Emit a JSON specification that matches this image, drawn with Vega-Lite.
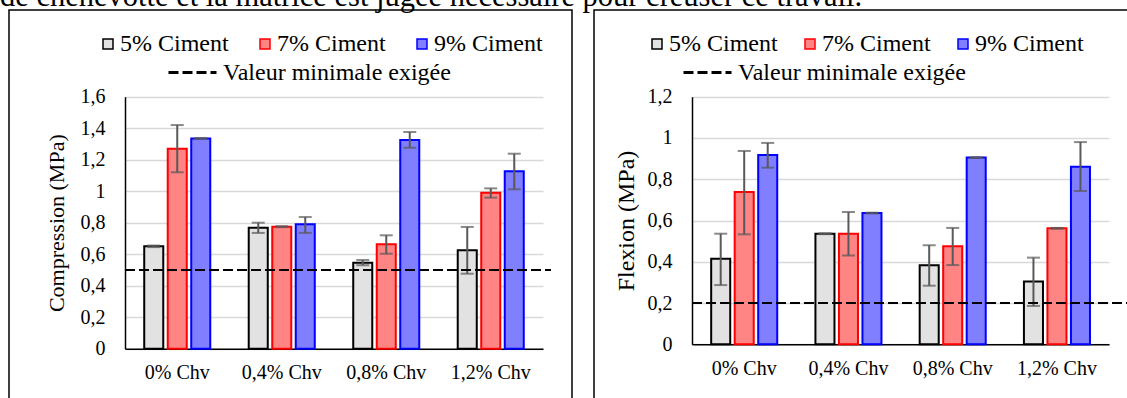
{
  "$schema": "https://vega.github.io/schema/vega-lite/v6.json",
  "autosize": {"type": "pad"},
  "padding": {"left": 0, "top": -19, "right": 0, "bottom": 0},
  "title": {"text": "de chènevotte et la matrice est jugée nécessaire pour creuser ce travail.", "anchor": "start", "frame": "group", "fontSize": 30.5, "font": "Liberation Serif", "fontWeight": "normal", "color": "#000000", "baseline": "alphabetic", "offset": -27, "dx": -9},
  "datasets": {
    "comp": [
      {"chv": "0% Chv", "ciment": "5% Ciment", "v": 0.65, "lo": 0.645, "hi": 0.655},
      {"chv": "0% Chv", "ciment": "7% Ciment", "v": 1.27, "lo": 1.12, "hi": 1.42},
      {"chv": "0% Chv", "ciment": "9% Ciment", "v": 1.335, "lo": 1.332, "hi": 1.338},
      {"chv": "0,4% Chv", "ciment": "5% Ciment", "v": 0.768, "lo": 0.735, "hi": 0.8},
      {"chv": "0,4% Chv", "ciment": "7% Ciment", "v": 0.775, "lo": 0.772, "hi": 0.778},
      {"chv": "0,4% Chv", "ciment": "9% Ciment", "v": 0.79, "lo": 0.735, "hi": 0.836},
      {"chv": "0,8% Chv", "ciment": "5% Ciment", "v": 0.546, "lo": 0.53, "hi": 0.563},
      {"chv": "0,8% Chv", "ciment": "7% Ciment", "v": 0.663, "lo": 0.603, "hi": 0.72},
      {"chv": "0,8% Chv", "ciment": "9% Ciment", "v": 1.325, "lo": 1.276, "hi": 1.376},
      {"chv": "1,2% Chv", "ciment": "5% Ciment", "v": 0.625, "lo": 0.476, "hi": 0.773},
      {"chv": "1,2% Chv", "ciment": "7% Ciment", "v": 0.99, "lo": 0.959, "hi": 1.018},
      {"chv": "1,2% Chv", "ciment": "9% Ciment", "v": 1.126, "lo": 1.012, "hi": 1.238}
    ],
    "flex": [
      {"chv": "0% Chv", "ciment": "5% Ciment", "v": 0.415, "lo": 0.287, "hi": 0.536},
      {"chv": "0% Chv", "ciment": "7% Ciment", "v": 0.738, "lo": 0.533, "hi": 0.937},
      {"chv": "0% Chv", "ciment": "9% Ciment", "v": 0.918, "lo": 0.856, "hi": 0.976},
      {"chv": "0,4% Chv", "ciment": "5% Ciment", "v": 0.536, "lo": 0.534, "hi": 0.538},
      {"chv": "0,4% Chv", "ciment": "7% Ciment", "v": 0.536, "lo": 0.43, "hi": 0.641},
      {"chv": "0,4% Chv", "ciment": "9% Ciment", "v": 0.636, "lo": 0.634, "hi": 0.638},
      {"chv": "0,8% Chv", "ciment": "5% Ciment", "v": 0.383, "lo": 0.284, "hi": 0.48},
      {"chv": "0,8% Chv", "ciment": "7% Ciment", "v": 0.475, "lo": 0.384, "hi": 0.564},
      {"chv": "0,8% Chv", "ciment": "9% Ciment", "v": 0.905, "lo": 0.903, "hi": 0.907},
      {"chv": "1,2% Chv", "ciment": "5% Ciment", "v": 0.304, "lo": 0.186, "hi": 0.42},
      {"chv": "1,2% Chv", "ciment": "7% Ciment", "v": 0.562, "lo": 0.56, "hi": 0.564},
      {"chv": "1,2% Chv", "ciment": "9% Ciment", "v": 0.861, "lo": 0.743, "hi": 0.98}
    ],
    "minc": [{"lbl": "Valeur minimale exigée", "v": 0.5}],
    "minf": [{"lbl": "Valeur minimale exigée", "v": 0.2}]
  },
  "spacing": 20,
  "hconcat": [
    {
      "width": 563,
      "height": 400,
      "layer": [
        {
          "data": {"name": "comp"},
          "layer": [
            {
              "mark": {"type": "bar", "strokeWidth": 2},
              "encoding": {
                "x": {"field": "chv", "type": "nominal", "sort": ["0% Chv", "0,4% Chv", "0,8% Chv", "1,2% Chv"], "scale": {"range": [116, 534], "paddingInner": 0.368, "paddingOuter": 0.184}, "axis": {"title": null, "offset": -61.3, "labelAngle": 0, "labelPadding": 14, "grid": false}},
                "xOffset": {"field": "ciment", "type": "nominal", "sort": ["5% Ciment", "7% Ciment", "9% Ciment"], "scale": {"paddingInner": 0.19, "paddingOuter": 0}},
                "y": {"field": "v", "type": "quantitative", "title": "Compression (MPa)", "scale": {"domain": [0, 1.6], "range": [338.7, 86.7], "nice": false}, "axis": {"offset": -116, "values": [0, 0.2, 0.4, 0.6, 0.8, 1, 1.2, 1.4, 1.6], "labelExpr": "replace(format(datum.value, '.1~f'), '.', ',')", "grid": true, "titlePadding": 12, "titleFontSize": 22}},
                "fill": {"field": "ciment", "type": "nominal", "title": null, "scale": {"domain": ["5% Ciment", "7% Ciment", "9% Ciment"], "range": ["#e2e2e2", "#ff8484", "#7f7fff"]}, "legend": {"orient": "none", "legendX": 87, "legendY": 22, "direction": "horizontal", "title": null, "symbolType": "square", "symbolSize": 100, "symbolStrokeWidth": 1.5, "labelOffset": 0, "columnPadding": 24}},
                "stroke": {"field": "ciment", "type": "nominal", "title": null, "scale": {"domain": ["5% Ciment", "7% Ciment", "9% Ciment"], "range": ["#000000", "#ff0000", "#0000ff"]}, "legend": {"orient": "none", "legendX": 87, "legendY": 22, "direction": "horizontal", "title": null, "symbolType": "square", "symbolSize": 100, "symbolStrokeWidth": 1.5, "labelOffset": 0, "columnPadding": 24}}
              }
            },
            {
              "mark": {"type": "rule", "color": "#595959", "strokeWidth": 2},
              "encoding": {
                "x": {"field": "chv", "type": "nominal", "sort": ["0% Chv", "0,4% Chv", "0,8% Chv", "1,2% Chv"]},
                "xOffset": {"field": "ciment", "type": "nominal", "sort": ["5% Ciment", "7% Ciment", "9% Ciment"]},
                "y": {"field": "lo", "type": "quantitative", "title": "Compression (MPa)"},
                "y2": {"field": "hi"}
              }
            },
            {
              "mark": {"type": "tick", "orient": "horizontal", "color": "#595959", "size": 13, "thickness": 2},
              "encoding": {
                "x": {"field": "chv", "type": "nominal", "sort": ["0% Chv", "0,4% Chv", "0,8% Chv", "1,2% Chv"]},
                "xOffset": {"field": "ciment", "type": "nominal", "sort": ["5% Ciment", "7% Ciment", "9% Ciment"]},
                "y": {"field": "lo", "type": "quantitative", "title": "Compression (MPa)"}
              }
            },
            {
              "mark": {"type": "tick", "orient": "horizontal", "color": "#595959", "size": 13, "thickness": 2},
              "encoding": {
                "x": {"field": "chv", "type": "nominal", "sort": ["0% Chv", "0,4% Chv", "0,8% Chv", "1,2% Chv"]},
                "xOffset": {"field": "ciment", "type": "nominal", "sort": ["5% Ciment", "7% Ciment", "9% Ciment"]},
                "y": {"field": "hi", "type": "quantitative", "title": "Compression (MPa)"}
              }
            }
          ]
        },
        {
          "data": {"name": "minc"},
          "mark": {"type": "rule", "strokeWidth": 2, "color": "#000000"},
          "encoding": {
            "x": {"datum": 0, "type": "quantitative", "scale": {"domain": [0, 1], "range": [116, 542]}, "axis": null},
            "x2": {"datum": 1},
            "y": {"field": "v", "type": "quantitative", "title": "Compression (MPa)"},
            "strokeDash": {"field": "lbl", "type": "nominal", "title": null, "scale": {"range": [[10, 4]]}, "legend": {"orient": "none", "legendX": 158, "legendY": 37, "title": null, "symbolType": "stroke", "symbolSize": 2304, "symbolStrokeWidth": 3, "symbolStrokeColor": "#000000", "labelOffset": 5, "encode": {"symbols": {"update": {"strokeDash": {"value": [11, 7]}, "stroke": {"value": "#000000"}}}}}}
          }
        }
      ],
      "resolve": {"scale": {"x": "independent"}}
    },
    {
      "width": 560,
      "height": 400,
      "layer": [
        {
          "data": {"name": "flex"},
          "layer": [
            {
              "mark": {"type": "bar", "strokeWidth": 2},
              "encoding": {
                "x": {"field": "chv", "type": "nominal", "sort": ["0% Chv", "0,4% Chv", "0,8% Chv", "1,2% Chv"], "scale": {"range": [98, 515], "paddingInner": 0.368, "paddingOuter": 0.184}, "axis": {"title": null, "offset": -65.7, "labelAngle": 0, "labelPadding": 14, "grid": false}},
                "xOffset": {"field": "ciment", "type": "nominal", "sort": ["5% Ciment", "7% Ciment", "9% Ciment"], "scale": {"paddingInner": 0.19, "paddingOuter": 0}},
                "y": {"field": "v", "type": "quantitative", "title": "Flexion (MPa)", "scale": {"domain": [0, 1.2], "range": [334.3, 86.7], "nice": false}, "axis": {"offset": -98, "values": [0, 0.2, 0.4, 0.6, 0.8, 1, 1.2], "labelExpr": "replace(format(datum.value, '.1~f'), '.', ',')", "grid": true, "titlePadding": 9, "titleFontSize": 24}},
                "fill": {"field": "ciment", "type": "nominal", "title": null, "scale": {"domain": ["5% Ciment", "7% Ciment", "9% Ciment"], "range": ["#e2e2e2", "#ff8484", "#7f7fff"]}, "legend": {"orient": "none", "legendX": 51, "legendY": 22, "direction": "horizontal", "title": null, "symbolType": "square", "symbolSize": 100, "symbolStrokeWidth": 1.5, "labelOffset": 0, "columnPadding": 20}},
                "stroke": {"field": "ciment", "type": "nominal", "title": null, "scale": {"domain": ["5% Ciment", "7% Ciment", "9% Ciment"], "range": ["#000000", "#ff0000", "#0000ff"]}, "legend": {"orient": "none", "legendX": 51, "legendY": 22, "direction": "horizontal", "title": null, "symbolType": "square", "symbolSize": 100, "symbolStrokeWidth": 1.5, "labelOffset": 0, "columnPadding": 20}}
              }
            },
            {
              "mark": {"type": "rule", "color": "#595959", "strokeWidth": 2},
              "encoding": {
                "x": {"field": "chv", "type": "nominal", "sort": ["0% Chv", "0,4% Chv", "0,8% Chv", "1,2% Chv"]},
                "xOffset": {"field": "ciment", "type": "nominal", "sort": ["5% Ciment", "7% Ciment", "9% Ciment"]},
                "y": {"field": "lo", "type": "quantitative", "title": "Flexion (MPa)"},
                "y2": {"field": "hi"}
              }
            },
            {
              "mark": {"type": "tick", "orient": "horizontal", "color": "#595959", "size": 13, "thickness": 2},
              "encoding": {
                "x": {"field": "chv", "type": "nominal", "sort": ["0% Chv", "0,4% Chv", "0,8% Chv", "1,2% Chv"]},
                "xOffset": {"field": "ciment", "type": "nominal", "sort": ["5% Ciment", "7% Ciment", "9% Ciment"]},
                "y": {"field": "lo", "type": "quantitative", "title": "Flexion (MPa)"}
              }
            },
            {
              "mark": {"type": "tick", "orient": "horizontal", "color": "#595959", "size": 13, "thickness": 2},
              "encoding": {
                "x": {"field": "chv", "type": "nominal", "sort": ["0% Chv", "0,4% Chv", "0,8% Chv", "1,2% Chv"]},
                "xOffset": {"field": "ciment", "type": "nominal", "sort": ["5% Ciment", "7% Ciment", "9% Ciment"]},
                "y": {"field": "hi", "type": "quantitative", "title": "Flexion (MPa)"}
              }
            }
          ]
        },
        {
          "data": {"name": "minf"},
          "mark": {"type": "rule", "strokeWidth": 2, "color": "#000000"},
          "encoding": {
            "x": {"datum": 0, "type": "quantitative", "scale": {"domain": [0, 1], "range": [98, 540]}, "axis": null},
            "x2": {"datum": 1},
            "y": {"field": "v", "type": "quantitative", "title": "Flexion (MPa)"},
            "strokeDash": {"field": "lbl", "type": "nominal", "title": null, "scale": {"range": [[10, 4]]}, "legend": {"orient": "none", "legendX": 88, "legendY": 37, "title": null, "symbolType": "stroke", "symbolSize": 2304, "symbolStrokeWidth": 3, "symbolStrokeColor": "#000000", "labelOffset": 5, "encode": {"symbols": {"update": {"strokeDash": {"value": [11, 7]}, "stroke": {"value": "#000000"}}}}}}
          }
        }
      ],
      "resolve": {"scale": {"x": "independent"}}
    }
  ],
  "resolve": {
    "scale": {"fill": "independent", "stroke": "independent", "strokeDash": "independent"},
    "legend": {"fill": "independent", "stroke": "independent", "strokeDash": "independent"}
  },
  "config": {
    "font": "Liberation Serif",
    "view": {"stroke": "#000000", "strokeWidth": 1.5},
    "axis": {"labelColor": "#000000", "titleColor": "#000000", "labelFont": "Liberation Serif", "titleFont": "Liberation Serif", "titleFontWeight": "normal", "domainColor": "#000000", "domainWidth": 1.5, "ticks": false, "labelFontSize": 20, "titleFontSize": 21},
    "axisY": {"gridColor": "#d9d9d9", "gridWidth": 1.5, "labelPadding": 20},
    "legend": {"labelFontSize": 24, "labelColor": "#000000", "labelFont": "Liberation Serif", "labelLimit": 0, "padding": 0}
  }
}
